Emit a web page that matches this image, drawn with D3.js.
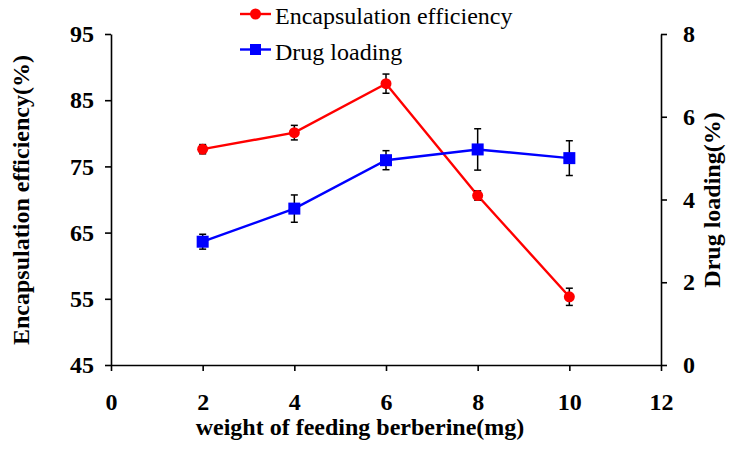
<!DOCTYPE html>
<html>
<head>
<meta charset="utf-8">
<script src="https://cdn.jsdelivr.net/npm/d3@7"></script>
<style>
  html, body { margin: 0; padding: 0; background: #fff; }
  svg { display: block; font-family: "Liberation Serif", "Times New Roman", serif; }
</style>
</head>
<body>
<svg id="chart" width="735" height="465"></svg>
<script>
// ---- data ----
const weights = [2, 4, 6, 8, 10];
const encapsulation = [77.6, 80.1, 87.5, 70.6, 55.3];
const encapsulationErr = [0.7, 1.1, 1.45, 0.7, 1.3];
const drugLoading = [2.98, 3.78, 4.95, 5.21, 5.0];
const drugLoadingErr = [0.18, 0.33, 0.23, 0.5, 0.42];
const xTicks = [0, 2, 4, 6, 8, 10, 12];
const leftTicks = [45, 55, 65, 75, 85, 95];
const rightTicks = [0, 2, 4, 6, 8];
const seriesNames = ["Encapsulation efficiency", "Drug loading"];
const xTitle = "weight of feeding berberine(mg)";
const leftTitle = "Encapsulation efficiency(%)";
const rightTitle = "Drug loading(%)";

const svg = d3.select("#chart");
const x = d3.scaleLinear().domain([0, 12]).range([111, 661]);
const yL = d3.scaleLinear().domain([45, 95]).range([365, 34]);
const yR = d3.scaleLinear().domain([0, 8]).range([365, 34]);

const axisFont = 24;

// axes
const gx = svg.append("g").attr("transform", `translate(0,${yL(45)})`)
  .call(d3.axisBottom(x).tickValues(xTicks).tickSize(6).tickSizeOuter(0).tickPadding(22));
const gl = svg.append("g").attr("transform", `translate(${x(0)},0)`)
  .call(d3.axisLeft(yL).tickValues(leftTicks).tickSize(6).tickSizeOuter(0).tickPadding(11));
const gr = svg.append("g").attr("transform", `translate(${x(12)},0)`)
  .call(d3.axisRight(yR).tickValues(rightTicks).tickSize(6).tickSizeOuter(0).tickPadding(16));

[gx, gl, gr].forEach(g => {
  g.selectAll("path.domain").attr("stroke", "#000").attr("stroke-width", 1.6);
  g.selectAll(".tick line").attr("stroke", "#000").attr("stroke-width", 1.6);
  g.selectAll(".tick text")
    .attr("font-family", "'Liberation Serif', 'Times New Roman', serif")
    .attr("font-size", axisFont).attr("font-weight", "bold").attr("fill", "#000");
});
gx.selectAll(".tick text").attr("dy", "0.71em");

// axis titles
svg.append("text").attr("x", 360).attr("y", 435)
  .attr("text-anchor", "middle").attr("font-size", axisFont).attr("font-weight", "bold")
  .text(xTitle);
svg.append("text").attr("transform", "translate(29,200) rotate(-90)")
  .attr("text-anchor", "middle").attr("font-size", axisFont).attr("font-weight", "bold")
  .text(leftTitle);
svg.append("text").attr("transform", "translate(720,200) rotate(-90)")
  .attr("text-anchor", "middle").attr("font-size", axisFont).attr("font-weight", "bold")
  .text(rightTitle);

// series
const series = [
  { name: seriesNames[0], vals: encapsulation, err: encapsulationErr, y: yL, color: "#ff0000", shape: "circle" },
  { name: seriesNames[1], vals: drugLoading, err: drugLoadingErr, y: yR, color: "#0000ff", shape: "square" }
];

series.forEach(s => {
  const pts = weights.map((w, i) => ({ x: w, v: s.vals[i], e: s.err[i] }));
  const line = d3.line().x(d => x(d.x)).y(d => s.y(d.v));
  svg.append("path").datum(pts).attr("d", line)
    .attr("fill", "none").attr("stroke", s.color).attr("stroke-width", 2.4);
});

series.forEach(s => {
  const pts = weights.map((w, i) => ({ x: w, v: s.vals[i], e: s.err[i] }));
  const eg = svg.append("g").attr("stroke", "#000").attr("stroke-width", 1.5);
  pts.forEach(d => {
    const cx = x(d.x), y1 = s.y(d.v - d.e), y2 = s.y(d.v + d.e);
    eg.append("line").attr("x1", cx).attr("x2", cx).attr("y1", y1).attr("y2", y2);
    eg.append("line").attr("x1", cx - 3.5).attr("x2", cx + 3.5).attr("y1", y1).attr("y2", y1);
    eg.append("line").attr("x1", cx - 3.5).attr("x2", cx + 3.5).attr("y1", y2).attr("y2", y2);
  });
  if (s.shape === "circle") {
    svg.append("g").selectAll("circle").data(pts).join("circle")
      .attr("cx", d => x(d.x)).attr("cy", d => s.y(d.v)).attr("r", 5.5).attr("fill", s.color);
  } else {
    svg.append("g").selectAll("rect").data(pts).join("rect")
      .attr("x", d => x(d.x) - 6).attr("y", d => s.y(d.v) - 6)
      .attr("width", 12).attr("height", 12).attr("fill", s.color);
  }
});

// legend
const legY = [14, 49.5];
series.forEach((s, i) => {
  const g = svg.append("g");
  g.append("line").attr("x1", 240).attr("x2", 271).attr("y1", legY[i]).attr("y2", legY[i])
    .attr("stroke", s.color).attr("stroke-width", 2.4);
  if (s.shape === "circle") {
    g.append("circle").attr("cx", 255.5).attr("cy", legY[i]).attr("r", 5.5).attr("fill", s.color);
  } else {
    g.append("rect").attr("x", 250).attr("y", legY[i] - 5.5).attr("width", 11).attr("height", 11).attr("fill", s.color);
  }
  g.append("text").attr("x", 275).attr("y", legY[i] + 10)
    .attr("font-size", 24).attr("fill", "#000").text(s.name);
});
</script>
</body>
</html>
